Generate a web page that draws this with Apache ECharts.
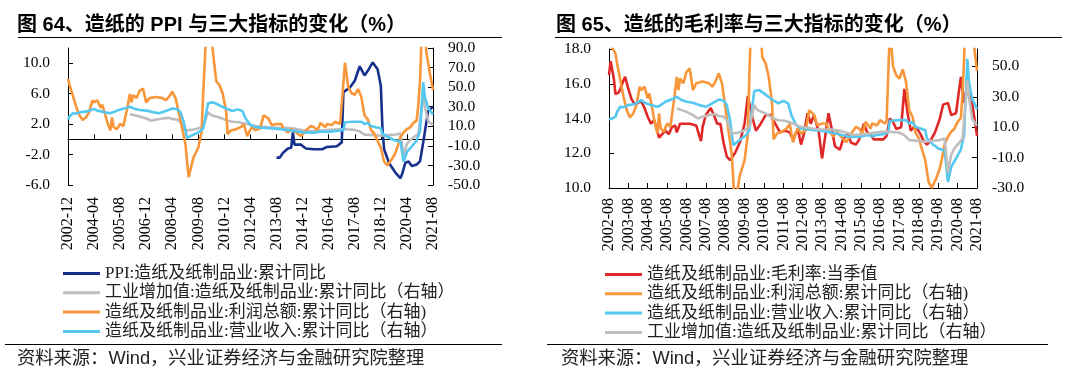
<!DOCTYPE html>
<html>
<head>
<meta charset="utf-8">
<script src="https://cdn.jsdelivr.net/npm/echarts@6/dist/echarts.min.js"></script>
<style>
html,body{margin:0;padding:0;background:#fff;}
#c{width:1077px;height:385px;}
</style>
</head>
<body>
<div id="c"></div>
<script>
// ---------------- DATA ----------------
const leftStart = '2002-12';
const rightStart = '2002-08';
const endMonth = '2021-08';

// PPI:造纸及纸制品业:累计同比 (left axis, chart 64)
const ppi = [
  ['2013-08',-2.4],['2013-10',-2.4],['2013-12',-1.75],['2014-03',-1.2],['2014-05',-1.1],['2014-06',0.9],
  ['2014-07',-0.7],['2014-11',-0.7],['2015-02',-1.2],['2015-07',-1.3],['2015-12',-1.3],['2016-03',-1.0],
  ['2016-09',-0.9],['2016-12',-0.4],['2017-01',6.2],['2017-05',6.8],['2017-08',7.7],['2017-11',9.6],
  ['2018-02',8.4],['2018-04',9.0],['2018-07',10.1],['2018-10',9.2],['2018-12',7.0],['2019-01',1.3],
  ['2019-02',-1.3],['2019-05',-3.1],['2019-09',-4.4],['2019-12',-5.1],['2020-01',-4.6],['2020-03',-3.1],
  ['2020-05',-2.9],['2020-07',-3.5],['2020-10',-3.3],['2020-12',-2.9],['2021-02',-0.4],['2021-05',3.7],
  ['2021-08',4.3]
];

// 造纸及纸制品业:毛利率:当季值 (left axis, chart 65)
const grossMargin = [
  ['2002-08',16.5],['2002-09',17.3],['2002-11',16.3],['2002-12',15.4],['2003-02',15.5],['2003-03',15.7],
  ['2003-05',16.2],['2003-06',16.4],['2003-08',15.7],['2003-10',15.1],['2003-12',14.8],['2004-02',14.9],
  ['2004-04',15.0],['2004-06',14.6],['2004-08',14.1],['2004-10',13.7],['2004-12',13.9],['2005-01',13.6],
  ['2005-03',12.9],['2005-05',13.1],['2005-07',13.3],['2005-09',13.1],['2005-11',13.5],['2006-01',13.6],
  ['2006-02',13.2],['2006-04',13.7],['2006-10',13.7],['2007-02',13.6],['2007-05',12.7],['2007-06',13.5],
  ['2007-08',14.2],['2007-11',14.6],['2008-01',14.2],['2008-03',13.7],['2008-05',13.7],['2008-07',12.6],
  ['2008-09',11.8],['2008-11',11.6],['2009-02',12.0],['2009-05',12.6],['2009-08',13.7],['2009-10',15.3],
  ['2010-01',14.0],['2010-03',13.3],['2010-06',13.7],['2010-09',14.2],['2010-12',14.2],['2011-03',13.7],
  ['2011-06',13.2],['2011-09',13.3],['2011-12',13.2],['2012-02',12.8],['2012-05',13.4],['2012-07',12.5],
  ['2012-09',13.2],['2012-11',14.3],['2013-01',13.7],['2013-03',14.2],['2013-06',13.2],['2013-08',11.7],
  ['2013-10',13.0],['2013-12',14.3],['2014-02',13.4],['2014-04',12.4],['2014-07',12.2],['2014-09',12.8],
  ['2014-12',13.1],['2015-02',12.6],['2015-05',12.5],['2015-07',12.8],['2015-10',13.7],['2015-12',13.2],
  ['2016-02',13.1],['2016-04',12.8],['2016-07',12.8],['2016-10',12.8],['2016-12',13.0],['2017-02',14.0],
  ['2017-04',13.8],['2017-06',13.4],['2017-09',13.5],['2017-11',15.7],['2018-01',14.3],['2018-03',13.3],
  ['2018-05',13.5],['2018-07',13.4],['2018-09',13.1],['2018-11',12.7],['2019-01',12.5],['2019-03',12.7],
  ['2019-06',13.2],['2019-09',14.0],['2019-11',14.8],['2020-02',14.9],['2020-04',14.2],['2020-07',14.3],
  ['2020-10',16.4],['2020-12',14.9],['2021-01',15.5],['2021-04',15.5],['2021-08',13.0]
];

// 造纸及纸制品业:利润总额:累计同比 (right axis)
const profit = [
  ['2002-08',66],['2002-10',62],['2002-12',58.5],['2003-01',52],['2003-03',41],['2003-05',30],
  ['2003-07',21.2],['2003-09',16.4],['2003-11',19],['2004-01',24.5],['2004-03',36.6],['2004-04',34.4],
  ['2004-06',36.6],['2004-08',28.9],['2004-09',32.2],['2004-11',21.2],['2004-12',14.6],['2005-02',5.8],
  ['2005-03',19],['2005-04',9.1],['2005-06',7],['2005-08',12.4],['2005-10',10.2],['2005-12',25.6],
  ['2006-02',43.1],['2006-03',34.4],['2006-04',42],['2006-06',38.8],['2006-08',46.4],['2006-10',48.6],
  ['2006-12',34.4],['2007-02',38.8],['2007-06',40],['2007-10',38.8],['2007-12',36.6],['2008-02',40],
  ['2008-04',45.4],['2008-06',38.8],['2008-08',24],['2008-10',8],['2008-12',-7.3],['2009-02',-42],
  ['2009-05',-22],['2009-08',-11.7],['2009-10',5],['2009-11',45],['2009-12',78],['2010-02',145],
  ['2010-04',100],['2010-05',85],['2010-07',56],['2010-09',52],['2010-11',43],['2011-01',25.6],
  ['2011-02',2],['2011-04',5.8],['2011-07',7],['2011-10',9.1],['2011-12',12],['2012-02',0],
  ['2012-04',7],['2012-05',9.1],['2012-07',5.8],['2012-10',8],['2012-12',21.2],['2013-03',18],
  ['2013-05',11.3],['2013-08',12.4],['2013-11',12.4],['2013-12',8],['2014-03',3.7],['2014-05',7],
  ['2014-08',3.7],['2014-11',0],['2014-12',-0.5],['2015-02',5.8],['2015-05',10.2],['2015-07',9.1],
  ['2015-09',5.8],['2015-11',13.5],['2016-02',9.1],['2016-03',12.4],['2016-06',11.3],['2016-08',14.6],
  ['2016-11',12.4],['2016-12',14],['2017-02',75],['2017-04',50],['2017-06',44],['2017-08',42],
  ['2017-10',48],['2017-12',40],['2018-02',21],['2018-04',17],['2018-06',6],['2018-08',2.6],
  ['2018-10',-5],['2018-12',-12],['2019-02',-26],['2019-04',-30],['2019-05',-30],['2019-07',-23],
  ['2019-09',-17],['2019-11',-7],['2019-12',-1],['2020-02',3.7],['2020-04',7],['2020-06',9],
  ['2020-08',13.5],['2020-10',16],['2020-11',32],['2020-12',55],['2021-01',100],['2021-02',130],
  ['2021-03',110],['2021-04',85],['2021-06',65],['2021-08',47]
];

// 造纸及纸制品业:营业收入:累计同比 (right axis)
const revenue = [
  ['2002-08',15],['2002-10',15.7],['2002-12',17],['2003-01',20],['2003-03',23.4],['2003-05',23],
  ['2003-08',24.5],['2003-12',25.2],['2004-04',27.8],['2004-06',26],['2004-10',24.5],['2005-02',23.4],
  ['2005-04',24.5],['2005-07',26.7],['2005-12',28.9],['2006-02',30],['2006-05',27.8],['2006-08',26.7],
  ['2006-12',26],['2007-04',24.5],['2007-08',23.4],['2007-12',25.6],['2008-04',28.2],['2008-07',27.5],
  ['2008-09',24.5],['2008-11',14.6],['2009-01',-1.8],['2009-05',1.5],['2009-09',4.8],['2009-11',8],
  ['2010-02',33.7],['2010-05',34.4],['2010-08',32.2],['2011-01',28.2],['2011-05',25.6],['2011-08',27.3],
  ['2011-11',25.6],['2012-01',17.9],['2012-04',11.3],['2012-07',9.1],['2012-11',8.5],['2013-07',7.6],
  ['2014-04',6],['2014-12',3.8],['2015-07',3.5],['2015-12',4.8],['2016-03',4.1],['2016-06',4.8],
  ['2016-10',5.4],['2017-01',6.3],['2017-02',14.2],['2017-07',14.6],['2017-12',14.6],['2018-02',12.4],
  ['2018-04',13.5],['2018-06',10.2],['2018-09',9.1],['2018-12',8],['2019-01',2.6],['2019-04',-0.7],
  ['2019-08',-4],['2019-10',-4.7],['2019-12',-5.6],['2020-02',-26],['2020-04',-16.1],['2020-07',-10.6],
  ['2020-10',-4.7],['2020-12',5],['2021-02',55],['2021-03',40],['2021-05',28.6],['2021-08',22]
];

// 工业增加值:造纸及纸制品业:累计同比 (right axis)
const valueAdded = [
  ['2006-02',22.3],['2006-05',21.2],['2006-08',20.1],['2006-12',17.9],['2007-03',15.7],['2007-06',16.8],
  ['2007-10',17.9],['2008-02',18.6],['2008-04',17.3],['2008-07',17],['2008-09',14.6],['2008-12',5.8],
  ['2009-04',6.3],['2009-08',8],['2009-11',10.2],['2010-02',24.5],['2010-04',21.2],['2010-09',19],
  ['2011-02',15.7],['2011-05',14.6],['2011-09',14.2],['2012-02',12.4],['2012-07',10.2],['2013-02',9.1],
  ['2013-07',8.5],['2014-02',8.5],['2014-07',7.6],['2014-12',6],['2015-04',4.8],['2015-10',5.4],
  ['2016-04',6.3],['2016-10',7],['2017-02',7],['2017-08',6.3],['2017-11',4.8],['2018-02',1.5],
  ['2018-08',1],['2018-12',0.4],['2019-04',1],['2019-09',1.5],['2019-12',2.6],['2020-02',-20],
  ['2020-04',-8],['2020-06',-4],['2020-11',2.3],['2021-02',40.7],['2021-03',30],['2021-05',15.5],
  ['2021-08',11]
];

const NAME_PPI = 'PPI:造纸及纸制品业:累计同比';
const NAME_VA = '工业增加值:造纸及纸制品业:累计同比（右轴）';
const NAME_PROFIT = '造纸及纸制品业:利润总额:累计同比（右轴)';
const NAME_REV = '造纸及纸制品业:营业收入:累计同比（右轴）';
const NAME_GM = '造纸及纸制品业:毛利率:当季值';

// ---------------- HELPERS ----------------
function monthRange(a, b) {
  let [y, m] = a.split('-').map(Number);
  const [ye, me] = b.split('-').map(Number);
  const out = [];
  while (y < ye || (y === ye && m <= me)) {
    out.push(y + '-' + String(m).padStart(2, '0'));
    m++; if (m > 12) { m = 1; y++; }
  }
  return out;
}
const catsLeft = monthRange(leftStart, endMonth);
const catsRight = monthRange(rightStart, endMonth);
const inRange = (arr, start) => arr.filter(p => p[0] >= start && p[0] <= endMonth);

const C_PPI = '#17308C', C_GRAY = '#BEBEBE', C_ORANGE = '#F8963A', C_BLUE = '#55C8F2', C_RED = '#E02828';
const F_NUM = "'Liberation Serif','Times New Roman',serif";
const F_CJK = "'Liberation Serif','Noto Sans CJK SC',sans-serif";
const F_TITLE = "'Liberation Sans','Noto Sans CJK SC',sans-serif";
const AX = '#000';

function valAxis(grid, pos, min, max, interval, margin, hideMax) {
  return {
    type: 'value', gridIndex: grid, position: pos, min: min, max: max, interval: interval,
    axisLine: { show: true, onZero: false, lineStyle: { color: AX, width: 1 } },
    axisTick: { show: true, inside: true, length: 5, lineStyle: { color: AX } },
    splitLine: { show: false },
    axisLabel: {
      margin: margin, color: '#000', fontSize: 15.5, fontFamily: F_NUM,
      showMaxLabel: !hideMax, showMinLabel: true,
      formatter: v => v.toFixed(1)
    }
  };
}
function lineSeries(name, color, data, xi, yi) {
  return {
    name: name, type: 'line', xAxisIndex: xi, yAxisIndex: yi, data: data,
    symbol: 'none', clip: true, lineStyle: { width: 2.6, color: color },
    itemStyle: { color: color }, emphasis: { disabled: true }
  };
}

const chart = echarts.init(document.getElementById('c'), null, { renderer: 'canvas' });
const option = {
  animation: false,
  backgroundColor: '#fff',
  title: [
    { text: '图 64、造纸的 PPI 与三大指标的变化（%）', left: 17, top: 15, padding: 0,
      textStyle: { fontSize: 20, fontWeight: 'bold', fontFamily: F_TITLE, color: '#000' } },
    { text: '图 65、造纸的毛利率与三大指标的变化（%）', left: 556, top: 15, padding: 0,
      textStyle: { fontSize: 20, fontWeight: 'bold', fontFamily: F_TITLE, color: '#000' } },
    { text: '资料来源：Wind，兴业证券经济与金融研究院整理', left: 17, top: 350, padding: 0,
      textStyle: { fontSize: 18.3, fontWeight: 'normal', fontFamily: F_TITLE, color: '#222' } },
    { text: '资料来源：Wind，兴业证券经济与金融研究院整理', left: 561, top: 350, padding: 0,
      textStyle: { fontSize: 18.3, fontWeight: 'normal', fontFamily: F_TITLE, color: '#222' } }
  ],
  graphic: [
    { type: 'line', shape: { x1: 18, y1: 37.5, x2: 502, y2: 37.5 }, style: { stroke: '#000', lineWidth: 1 } },
    { type: 'line', shape: { x1: 555, y1: 37.5, x2: 1062, y2: 37.5 }, style: { stroke: '#000', lineWidth: 1 } },
    { type: 'line', shape: { x1: 5, y1: 344.5, x2: 502, y2: 344.5 }, style: { stroke: '#000', lineWidth: 1 } },
    { type: 'line', shape: { x1: 547, y1: 344.5, x2: 1048, y2: 344.5 }, style: { stroke: '#000', lineWidth: 1 } }
  ],
  legend: [
    { orient: 'vertical', left: 63, top: 265, padding: 0, itemWidth: 37, itemHeight: 3, itemGap: 2.3,
      icon: 'rect', selectedMode: false,
      data: [NAME_PPI, NAME_VA, NAME_PROFIT, NAME_REV],
      textStyle: { fontSize: 17, lineHeight: 17, fontFamily: F_CJK, color: '#222' } },
    { orient: 'vertical', left: 605, top: 266, padding: 0, itemWidth: 37, itemHeight: 3, itemGap: 2.3,
      icon: 'rect', selectedMode: false,
      data: [NAME_GM, NAME_PROFIT, NAME_REV, NAME_VA],
      textStyle: { fontSize: 17, lineHeight: 17, fontFamily: F_CJK, color: '#222' } }
  ],
  grid: [
    { left: 68, top: 48, width: 365, height: 137, containLabel: false, outerBoundsMode: 'none' },
    { left: 609, top: 49, width: 368, height: 139, containLabel: false, outerBoundsMode: 'none' }
  ],
  xAxis: [
    { type: 'category', gridIndex: 0, data: catsLeft, boundaryGap: false, position: 'bottom',
      axisLine: { show: false, onZero: false }, axisTick: { show: false },
      axisLabel: { interval: 15, rotate: 90, margin: 12, fontSize: 16, fontFamily: F_NUM, color: '#000' } },
    { type: 'category', gridIndex: 0, data: catsLeft, boundaryGap: false, position: 'bottom',
      axisLine: { show: true, onZero: true, onZeroAxisIndex: 0, lineStyle: { color: AX, width: 1 } },
      axisTick: { show: true, inside: true, interval: 15, length: 5, lineStyle: { color: AX } },
      axisLabel: { show: false } },
    { type: 'category', gridIndex: 1, data: catsRight, boundaryGap: false, position: 'bottom',
      axisLine: { show: true, onZero: false, lineStyle: { color: AX, width: 1 } },
      axisTick: { show: true, inside: true, interval: 11, length: 5, lineStyle: { color: AX } },
      axisLabel: { interval: 11, rotate: 90, margin: 10, fontSize: 16, fontFamily: F_NUM, color: '#000' } }
  ],
  yAxis: [
    valAxis(0, 'left', -6, 12, 4, 18, true),
    valAxis(0, 'right', -50, 90, 20, 15, false),
    valAxis(1, 'left', 10, 18, 2, 18, false),
    valAxis(1, 'right', -30, 61.4, 20, 15, true)
  ],
  series: [
    lineSeries(NAME_PPI, C_PPI, inRange(ppi, leftStart), 0, 0),
    lineSeries(NAME_VA, C_GRAY, inRange(valueAdded, leftStart), 0, 1),
    lineSeries(NAME_PROFIT, C_ORANGE, inRange(profit, leftStart), 0, 1),
    lineSeries(NAME_REV, C_BLUE, inRange(revenue, leftStart), 0, 1),

    lineSeries(NAME_GM, C_RED, inRange(grossMargin, rightStart), 2, 2),
    lineSeries(NAME_PROFIT, C_ORANGE, inRange(profit, rightStart), 2, 3),
    lineSeries(NAME_REV, C_BLUE, inRange(revenue, rightStart), 2, 3),
    lineSeries(NAME_VA, C_GRAY, inRange(valueAdded, rightStart), 2, 3)
  ]
};
chart.setOption(option);
</script>
</body>
</html>
